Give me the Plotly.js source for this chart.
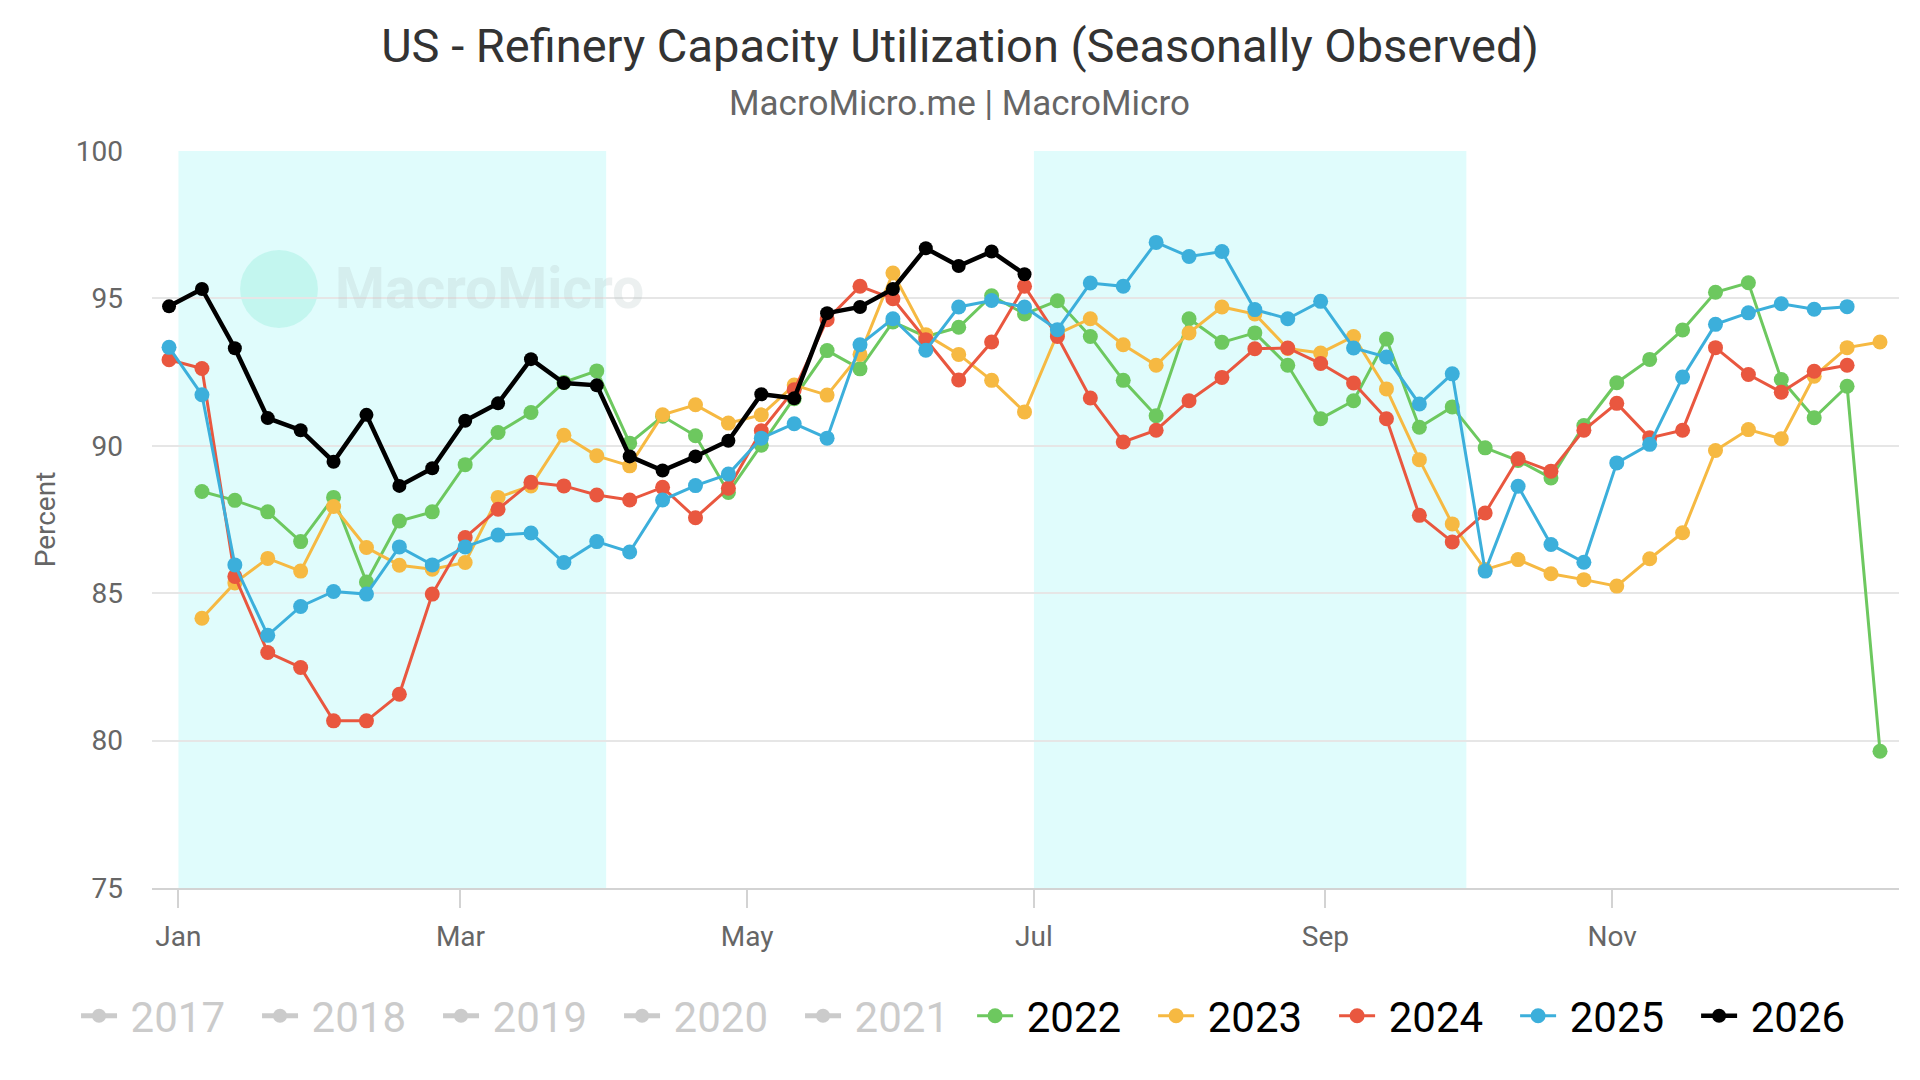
<!DOCTYPE html>
<html>
<head>
<meta charset="utf-8">
<script src="https://cdn.plot.ly/plotly-3.0.1.min.js"></script>
<style>
  html, body { margin: 0; padding: 0; background: #fff; }
  #chart { width: 1920px; height: 1080px; }
</style>
</head>
<body>
<div id="chart"></div>
<script>
// week-ending dates laid on one common (leap) year, seasonal view
var weeks = [
    '2023-12-30', '2024-01-06', '2024-01-13', '2024-01-20', '2024-01-27',
    '2024-02-03', '2024-02-10', '2024-02-17', '2024-02-24',
    '2024-03-02', '2024-03-09', '2024-03-16', '2024-03-23', '2024-03-30',
    '2024-04-06', '2024-04-13', '2024-04-20', '2024-04-27',
    '2024-05-04', '2024-05-11', '2024-05-18', '2024-05-25',
    '2024-06-01', '2024-06-08', '2024-06-15', '2024-06-22', '2024-06-29',
    '2024-07-06', '2024-07-13', '2024-07-20', '2024-07-27',
    '2024-08-03', '2024-08-10', '2024-08-17', '2024-08-24', '2024-08-31',
    '2024-09-07', '2024-09-14', '2024-09-21', '2024-09-28',
    '2024-10-05', '2024-10-12', '2024-10-19', '2024-10-26',
    '2024-11-02', '2024-11-09', '2024-11-16', '2024-11-23', '2024-11-30',
    '2024-12-07', '2024-12-14', '2024-12-21', '2024-12-28'
];

var monthTicks = ['2024-01-01', '2024-03-01', '2024-05-01', '2024-07-01', '2024-09-01', '2024-11-01'];

var hiddenYears = ['2017', '2018', '2019', '2020', '2021'];

var y2022 = [null, 88.45, 88.15, 87.76, 86.75, 88.25, 85.38, 87.45, 87.76,
    89.36, 90.45, 91.13, 92.15, 92.54, 90.09, 91.0, 90.34, 88.42,
    90.02, 91.6, 93.23, 92.61, 94.2, 93.7, 94.02, 95.09, 94.47,
    94.92, 93.71, 92.22, 91.02, 94.31, 93.51, 93.83, 92.73,
    90.92, 91.53, 93.62, 90.63, 91.32, 89.93, 89.5, 88.91, 90.69,
    92.14, 92.93, 93.93, 95.21, 95.53, 92.25, 90.95, 92.02, 79.64];

var y2023 = [null, 84.15, 85.35, 86.18, 85.75, 87.94, 86.55, 85.95, 85.81,
    86.04, 88.25, 88.64, 90.36, 89.66, 89.32, 91.05, 91.39, 90.77,
    91.05, 92.06, 91.72, 93.1, 95.86, 93.77, 93.1, 92.22, 91.15,
    93.8, 94.31, 93.43, 92.73, 93.83, 94.71, 94.47, 93.3,
    93.15, 93.71, 91.93, 89.53, 87.35, 85.8, 86.14, 85.66, 85.46,
    85.24, 86.17, 87.05, 89.84, 90.55, 90.24, 92.36, 93.33, 93.52];

var y2024 = [92.92, 92.62, 85.57, 82.99, 82.48, 80.67, 80.67, 81.57, 84.97,
    86.89, 87.85, 88.76, 88.64, 88.33, 88.16, 88.59, 87.56, 88.56,
    90.51, 91.9, 94.28, 95.41, 94.99, 93.6, 92.23, 93.52, 95.41,
    93.71, 91.62, 90.13, 90.53, 91.53, 92.32, 93.29, 93.32,
    92.79, 92.13, 90.92, 87.64, 86.74, 87.72, 89.56, 89.14, 90.53,
    91.44, 90.27, 90.53, 93.33, 92.42, 91.82, 92.53, 92.73, null];

var y2025 = [93.34, 91.73, 85.96, 83.57, 84.55, 85.06, 84.97, 86.57, 85.96,
    86.57, 86.97, 87.04, 86.04, 86.75, 86.4, 88.16, 88.65, 89.04,
    90.26, 90.75, 90.26, 93.43, 94.31, 93.24, 94.71, 94.93, 94.71,
    93.94, 95.52, 95.41, 96.9, 96.42, 96.59, 94.62, 94.31,
    94.9, 93.32, 93.01, 91.42, 92.44, 85.75, 88.63, 86.65, 86.05,
    89.42, 90.05, 92.33, 94.12, 94.51, 94.82, 94.63, 94.72, null];

var y2026 = [94.73, 95.32, 93.31, 90.94, 90.53, 89.46, 91.05, 88.64, 89.24,
    90.85, 91.44, 92.94, 92.13, 92.05, 89.64, 89.16, 89.64, 90.17,
    91.75, 91.61, 94.5, 94.71, 95.32, 96.7, 96.1, 96.59, 95.82];

var shownYears = ['2022', '2023', '2024', '2025', '2026'];
var shownValues = [y2022, y2023, y2024, y2025, y2026];
var shownColors = ['#6dc85f', '#f6b942', '#e9573f', '#3cafdb', '#000000'];

var FONT = 'Roboto, "Noto Sans", sans-serif';

var data = [];

// years switched off in the legend (no marks drawn)
hiddenYears.forEach(function(yr) {
    data.push({
        type: 'scatter',
        mode: 'lines+markers',
        name: '<span style="color:#999">\u2009' + yr + '</span>',
        x: [weeks[0]],
        y: [null],
        visible: 'legendonly',
        legend: 'legend',
        line: {color: '#999', width: 5},
        marker: {color: '#999', size: 14}
    });
});

shownYears.forEach(function(yr, i) {
    var isCurrent = (yr == '2026');
    data.push({
        type: 'scatter',
        mode: 'lines+markers',
        name: '\u2009' + yr,
        x: weeks.slice(0, shownValues[i].length),
        y: shownValues[i],
        connectgaps: false,
        legend: 'legend2',
        line: {color: shownColors[i], width: isCurrent ? 4.5 : 3},
        marker: {color: shownColors[i], size: isCurrent ? 14 : 15}
    });
});

var legendBase = {
    orientation: 'h',
    xref: 'container', xanchor: 'left',
    yref: 'container', y: 0.0593, yanchor: 'middle',
    itemwidth: 36,
    entrywidth: 130,
    font: {family: FONT, size: 42, color: '#000'},
    bgcolor: 'rgba(0,0,0,0)'
};

var layout = {
    width: 1920,
    height: 1080,
    margin: {l: 152, r: 21, t: 151, b: 192},
    paper_bgcolor: '#ffffff',
    plot_bgcolor: '#ffffff',
    font: {family: FONT, color: '#666'},
    showlegend: true,
    hovermode: false,
    title: {
        text: 'US - Refinery Capacity Utilization (Seasonally Observed)',
        font: {family: FONT, size: 47, color: '#333'},
        xref: 'container', x: 0.5, xanchor: 'center',
        yref: 'container', y: 0.958, yanchor: 'middle'
    },
    annotations: [
        {
            text: 'MacroMicro.me | MacroMicro',
            xref: 'paper', x: 0.4625, xanchor: 'center',
            yref: 'paper', y: 1.0638, yanchor: 'middle',
            showarrow: false,
            font: {family: FONT, size: 35, color: '#666'}
        },
        {
            text: '<b>MacroMicro</b>',
            xref: 'paper', x: 0.1035, xanchor: 'left',
            yref: 'paper', y: 0.8128, yanchor: 'middle',
            showarrow: false,
            font: {family: FONT, size: 57, color: 'rgba(180,195,195,0.25)'}
        }
    ],
    shapes: [
        {type: 'rect', xref: 'x', yref: 'paper', x0: '2024-01-01', x1: '2024-04-01', y0: 0, y1: 1,
         fillcolor: '#e0fcfc', line: {width: 0}, layer: 'below'},
        {type: 'rect', xref: 'x', yref: 'paper', x0: '2024-07-01', x1: '2024-10-01', y0: 0, y1: 1,
         fillcolor: '#e0fcfc', line: {width: 0}, layer: 'below'},
        {type: 'circle', xref: 'paper', yref: 'paper', x0: 0.0504, x1: 0.095, y0: 0.7599, y1: 0.8657,
         fillcolor: 'rgba(160,240,225,0.45)', line: {width: 0}, layer: 'below'}
    ],
    xaxis: {
        type: 'date',
        range: ['2023-12-26 09:00', '2025-01-01 01:00'],
        tickmode: 'array',
        tickvals: monthTicks,
        tickformat: '%b',
        ticks: 'outside',
        ticklen: 18,
        tickwidth: 2,
        tickcolor: '#d3d3d3',
        showline: true,
        linecolor: '#d3d3d3',
        linewidth: 2,
        showgrid: false,
        zeroline: false,
        ticklabelstandoff: 4,
        tickfont: {family: FONT, size: 28, color: '#666'}
    },
    yaxis: {
        range: [75, 100],
        tick0: 75,
        dtick: 5,
        showgrid: true,
        gridcolor: '#e6e6e6',
        gridwidth: 2,
        zeroline: false,
        showline: false,
        ticklabelstandoff: 28,
        tickfont: {family: FONT, size: 28, color: '#666'},
        title: {text: 'Percent', standoff: 11, font: {family: FONT, size: 28, color: '#666'}}
    },
    legend: Object.assign({}, legendBase, {x: 0.0396}),
    legend2: Object.assign({}, legendBase, {x: 0.5063})
};

Plotly.newPlot('chart', data, layout, {displayModeBar: false, staticPlot: true});
</script>
</body>
</html>
